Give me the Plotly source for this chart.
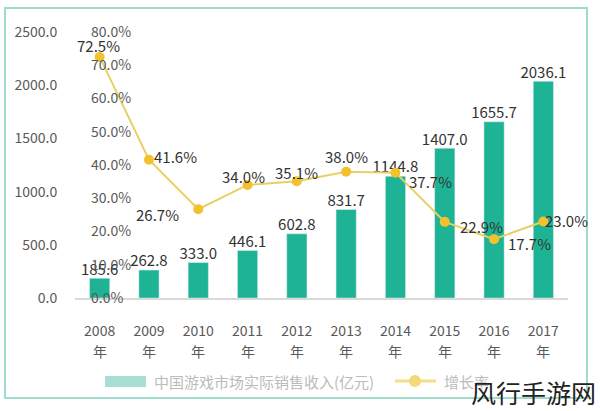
import plotly.graph_objects as go

years = ["2008", "2009", "2010", "2011", "2012", "2013", "2014", "2015", "2016", "2017"]
revenue = [185.6, 262.8, 333.0, 446.1, 602.8, 831.7, 1144.8, 1407.0, 1655.7, 2036.1]
growth = [72.5, 41.6, 26.7, 34.0, 35.1, 38.0, 37.7, 22.9, 17.7, 23.0]
rev_ticks = [0, 500, 1000, 1500, 2000, 2500]
pct_ticks = [0, 10, 20, 30, 40, 50, 60, 70, 80]
bar_name = "中国游戏市场实际销售收入(亿元)"
line_name = "增长率"
year_suffix = "年"
watermark = "风行手游网"

# label offsets (pixels) for growth labels, relative to their points
g_dx = [-1, 27, -41, -4, 0, 0, 35, 37, 35, 23]
g_dy = [11, 3, -5, 8, 9, 15, -9, -5, -4, 1]

W, H = 600, 411
L, R, T, B = 75, 32, 32, 113
PW, PH = W - L - R, H - T - B

def px(x):
    return (x - L) / PW

def py(y):
    return (H - B - y) / PH

FONT = "Noto Sans CJK SC"
BAR_C = "#1DB394"
LINE_C = "#E8D064"
MARK_C = "#F2C22E"
TXT = "#333333"
AX = "#595959"

xi = list(range(len(years)))

fig = go.Figure()
fig.add_trace(go.Bar(
    x=xi, y=revenue, name=bar_name, marker_color=BAR_C, width=0.41,
    showlegend=False, hoverinfo="x+y",
))
fig.add_trace(go.Scatter(
    x=xi, y=revenue, mode="text", text=[f"{v:.1f}" for v in revenue],
    textposition="top center", textfont=dict(color=TXT, size=15, family=FONT),
    cliponaxis=False, showlegend=False, hoverinfo="skip",
))
fig.add_trace(go.Scatter(
    x=xi, y=growth, name=line_name, yaxis="y2", mode="lines+markers",
    line=dict(color=LINE_C, width=2), marker=dict(color=MARK_C, size=10),
    cliponaxis=False, showlegend=False,
))

annotations = []
for i, v in enumerate(growth):
    annotations.append(dict(x=xi[i], y=v, xref="x", yref="y2", text=f"{v:.1f}%",
                            xshift=g_dx[i], yshift=g_dy[i], showarrow=False,
                            xanchor="center", yanchor="middle",
                            font=dict(color=TXT, size=15, family=FONT)))
for i in xi:
    annotations.append(dict(x=i, xref="x", y=py(351), yref="paper", text=year_suffix,
                            xanchor="center", yanchor="middle", showarrow=False,
                            font=dict(color=AX, size=14, family=FONT)))
annotations.append(dict(x=px(152), y=py(381), xref="paper", yref="paper", text=bar_name,
                        xanchor="left", yanchor="middle", showarrow=False,
                        font=dict(color="#BBBBBB", size=15, family=FONT)))
annotations.append(dict(x=px(442), y=py(381), xref="paper", yref="paper", text=line_name,
                        xanchor="left", yanchor="middle", showarrow=False,
                        font=dict(color="#BBBBBB", size=15, family=FONT)))
annotations.append(dict(x=px(598), y=py(392), xref="paper", yref="paper", text=watermark,
                        xanchor="right", yanchor="middle", showarrow=False,
                        font=dict(color="#222222", size=25, family=FONT)))

shapes = [
    dict(type="rect", xref="paper", yref="paper", x0=px(5), x1=px(587), y0=py(398), y1=py(8),
         line=dict(color="#9FDCCF", width=2), fillcolor="rgba(0,0,0,0)", layer="below"),
    dict(type="rect", xref="paper", yref="paper", x0=px(105), x1=px(146), y0=py(387), y1=py(376),
         line=dict(width=0), fillcolor="#A8DED3"),
    dict(type="line", xref="paper", yref="paper", x0=px(395), x1=px(436), y0=py(381), y1=py(381),
         line=dict(color="#F3DE8A", width=3)),
    dict(type="circle", xref="paper", yref="paper", x0=px(409), x1=px(421), y0=py(387), y1=py(375),
         line=dict(width=0), fillcolor="#F3D97A"),
]

fig.update_layout(
    width=W, height=H, margin=dict(l=L, r=R, t=T, b=B, autoexpand=False),
    paper_bgcolor="white", plot_bgcolor="white",
    font=dict(family=FONT, color=AX, size=14),
    xaxis=dict(range=[-0.5, len(years) - 0.5], tickvals=xi, ticktext=years,
               showgrid=False, zeroline=False, showline=True, linecolor="#D9D9D9", linewidth=1.5,
               ticks="outside", ticklen=19, tickcolor="rgba(0,0,0,0)",
               tickfont=dict(color=AX, size=14, family=FONT)),
    yaxis=dict(range=[0, 2500], tickvals=rev_ticks, ticktext=[f"{v:.1f}" for v in rev_ticks],
               showgrid=False, zeroline=False, showline=False, ticks="outside", ticklen=14,
               tickcolor="rgba(0,0,0,0)", tickfont=dict(color=AX, size=14, family=FONT)),
    yaxis2=dict(range=[0, 80], tickvals=pct_ticks, ticktext=[f"{v:.1f}%" for v in pct_ticks],
                overlaying="y", side="right", anchor="free", position=px(90),
                showgrid=False, zeroline=False, showline=False, ticks="",
                tickfont=dict(color=AX, size=14, family=FONT)),
    annotations=annotations, shapes=shapes, showlegend=False,
)

fig.write_html("out.html", config={"displayModeBar": False},
               post_script="document.body.style.margin='0px';")
